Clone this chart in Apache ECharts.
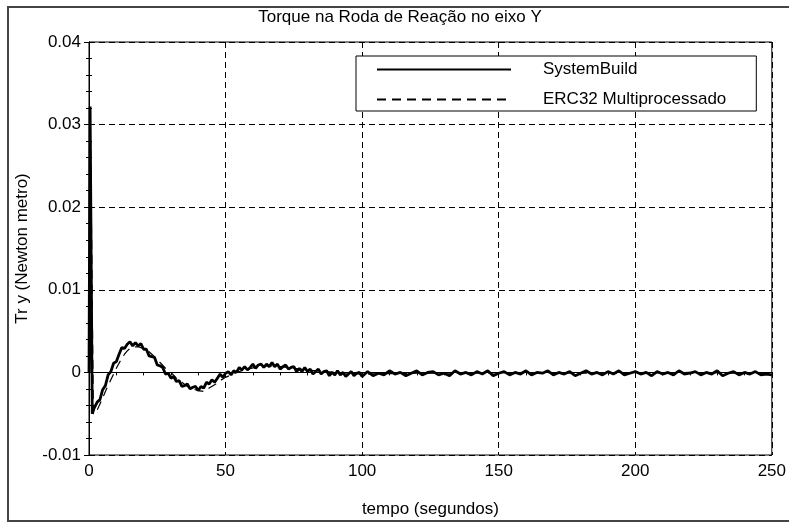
<!DOCTYPE html>
<html>
<head>
<meta charset="utf-8">
<script src="https://cdn.jsdelivr.net/npm/echarts@6/dist/echarts.min.js"></script>
<style>
html,body{margin:0;padding:0;background:#fff;}
#chart{width:789px;height:523px;}
</style>
</head>
<body>
<div id="chart"></div>
<script>
const chartTitle = 'Torque na Roda de Reação no eixo Y';
const xAxisName = 'tempo (segundos)';
const yAxisName = 'Tr y (Newton metro)';
const seriesNames = ['SystemBuild', 'ERC32 Multiprocessado'];

const solidTime = [0,0.4,1.2,1.8,2.5,
3,4,5,6,7,8,9,10,11,12,13,14,15,16,17,18,19,20,21,22,23,24,25,26,27,28,29,30,
31,32,33,34,35,36,37,38,39,40,41,42,43,44,45,46,47,48,49,50,51,52,53,54,55,56,57,58,59,60,
61,62,63,64,65,66,67,68,69,70,71,72,73,74,75,76,77,78,79,80,81,82,83,84,85,86,87,88,89,90,
91,92,93,94,95,96,97,98,99,100,
102,104,106,108,110,112,114,116,118,120,122,124,126,128,130,132,134,136,138,140,
142,144,146,148,150,152,154,156,158,160,162,164,166,168,170,172,174,176,178,180,
182,184,186,188,190,192,194,196,198,200,202,204,206,208,210,212,214,216,218,220,
222,224,226,228,230,232,234,236,238,240,242,244,246,248,250];

const solidValue = [0,0.0322,-0.0050,-0.0044,-0.0045,
-0.0036,-0.0033,-0.0021,-0.0016,-0.0003,0.0001,0.0011,0.0013,0.0022,0.0030,0.0029,0.0034,0.0037,0.0032,0.0036,0.0032,0.0035,0.0028,0.0028,0.0020,0.0019,0.0018,0.0009,0.0008,0.0006,-0.0002,-0.0001,-0.0007,
-0.0005,-0.0011,-0.0010,-0.0017,-0.0016,-0.0014,-0.0020,-0.0018,-0.0017,-0.0022,-0.0017,-0.0019,-0.0012,-0.0014,-0.0009,-0.0012,-0.0007,-0.0002,-0.0006,-0.0001,0.0001,-0.0003,0.0002,0.0000,0.0006,0.0003,0.0007,0.0003,0.0006,0.0010,
0.0005,0.0009,0.0010,0.0006,0.0010,0.0007,0.0012,0.0007,0.0010,0.0004,0.0007,0.0009,0.0004,0.0006,0.0007,0.0001,0.0005,0.0001,0.0006,0.0001,0.0004,-0.0002,0.0001,0.0004,-0.0002,0.0001,0.0002,-0.0004,0.0000,-0.0003,
0.0002,-0.0003,0.0000,-0.0005,-0.0002,0.0001,-0.0004,-0.0001,0.0000,-0.0005,
0.0001,-0.0004,-0.0001,-0.0003,0.0002,-0.0002,0.0000,-0.0004,-0.0001,0.0002,-0.0003,0.0000,0.0001,-0.0003,-0.0001,-0.0004,0.0002,-0.0002,0.0000,-0.0003,
0.0001,-0.0002,0.0002,-0.0004,-0.0001,0.0001,-0.0003,0.0000,-0.0002,0.0002,-0.0003,0.0000,-0.0001,0.0002,-0.0003,0.0000,-0.0002,0.0001,-0.0004,-0.0001,
0.0002,-0.0002,0.0000,-0.0003,0.0001,-0.0002,0.0002,-0.0003,-0.0001,0.0001,-0.0002,0.0000,-0.0004,0.0001,-0.0002,0.0000,-0.0003,0.0002,-0.0002,-0.0001,
0.0001,-0.0003,0.0000,-0.0002,0.0002,-0.0004,-0.0001,0.0001,-0.0003,0.0000,-0.0002,0.0001,-0.0003,-0.0002,-0.0003];

const dashTime = [0,0.6,1.6,2.5,3.5,5,6,7,8,9,10,11,12,13,14,15,16,17,18,19,20,
22,24,26,28,30,32,34,36,38,40,42,44,46,48,50,54,58,62,66,70,75,80,90,100,
120,140,160,180,200,220,240,250];
const dashValue = [0,0.0280,-0.0050,-0.0049,-0.0042,-0.0031,-0.0023,-0.0016,-0.0009,-0.0002,0.0005,0.0011,0.0017,0.0022,0.0026,0.0029,0.0030,0.0031,0.0031,0.0030,0.0029,
0.0025,0.0019,0.0012,0.0005,0.0000,-0.0007,-0.0012,-0.0017,-0.0020,-0.0022,-0.0023,-0.0019,-0.0015,-0.0010,-0.0006,0.0000,0.0004,0.0007,0.0008,0.0007,0.0005,0.0003,0.0000,-0.0002,
-0.0001,-0.0001,0.0000,-0.0001,-0.0001,0.0000,-0.0001,-0.0002];

function zip(ts, vs) {
  const n = Math.min(ts.length, vs.length);
  const out = [];
  for (let i = 0; i < n; i++) out.push([ts[i], vs[i]]);
  return out;
}

const FONT = 'Liberation Sans, Arial, sans-serif';
const FS = 17;

const chart = echarts.init(document.getElementById('chart'), null, {renderer: 'canvas'});

const tickCommon = {show: true, inside: true, length: 5, lineStyle: {color: '#000', width: 1}};
const minorCommon = {show: true, splitNumber: 5, length: 3, lineStyle: {color: '#000', width: 1}};

chart.setOption({
  animation: false,
  backgroundColor: '#fff',
  title: {
    text: chartTitle,
    left: 400,
    top: 9,
    textAlign: 'center',
    padding: 0,
    textStyle: {fontFamily: FONT, fontSize: FS, fontWeight: 'normal', color: '#000'}
  },
  graphic: [{
    type: 'rect',
    shape: {x: 8, y: 7, width: 820, height: 514},
    style: {fill: 'none', stroke: '#444', lineWidth: 2},
    silent: true,
    z: -1
  }],
  legend: {
    orient: 'vertical',
    left: 356,
    top: 56,
    data: seriesNames,
    backgroundColor: '#fff',
    borderColor: '#000',
    borderWidth: 1,
    borderRadius: 0,
    padding: [5, 30, 3, 20],
    itemWidth: 134,
    itemHeight: 14,
    itemGap: 13,
    itemStyle: {color: 'rgba(0,0,0,0)', borderColor: 'rgba(0,0,0,0)', borderWidth: 0, opacity: 0},
    textStyle: {fontFamily: FONT, fontSize: FS, color: '#000', lineHeight: 17, padding: [0, 0, 0, 27]},
    z: 10
  },
  grid: {
    left: 89, right: 13, top: 42, bottom: 58,
    show: true,
    borderColor: '#000',
    borderWidth: 1,
    backgroundColor: 'transparent'
  },
  xAxis: [{
    type: 'value',
    min: 0, max: 250, interval: 50,
    name: xAxisName,
    nameLocation: 'middle',
    nameGap: 46,
    nameTextStyle: {fontFamily: FONT, fontSize: FS, color: '#000'},
    axisLine: {show: true, lineStyle: {color: '#000', width: 1}},
    axisTick: {show: false},
    minorTick: {show: false},
    axisLabel: {fontFamily: FONT, fontSize: FS, color: '#000', margin: 8, showMinLabel: true, showMaxLabel: true},
    splitLine: {show: true, lineStyle: {color: '#000', type: [6, 4], width: 1}}
  }, {
    type: 'value',
    position: 'top',
    min: 0, max: 250, interval: 50,
    axisLine: {show: true, lineStyle: {color: '#000', width: 1}},
    axisTick: tickCommon,
    minorTick: minorCommon,
    axisLabel: {show: false},
    splitLine: {show: false}
  }],
  yAxis: [{
    type: 'value',
    min: -0.01, max: 0.04, interval: 0.01,
    name: yAxisName,
    nameLocation: 'middle',
    nameGap: 58,
    nameTextStyle: {fontFamily: FONT, fontSize: FS, color: '#000'},
    axisLine: {show: true, lineStyle: {color: '#000', width: 1}},
    axisTick: tickCommon,
    minorTick: minorCommon,
    axisLabel: {
      fontFamily: FONT, fontSize: FS, color: '#000', margin: 8,
      formatter: function (v) { return String(Math.round(v * 100) / 100); }
    },
    splitLine: {show: true, lineStyle: {color: '#000', type: [6, 4], width: 1}}
  }, {
    type: 'value',
    position: 'right',
    min: -0.01, max: 0.04, interval: 0.01,
    axisLine: {show: true, lineStyle: {color: '#000', width: 1}},
    axisTick: tickCommon,
    minorTick: minorCommon,
    axisLabel: {show: false},
    splitLine: {show: false}
  }],
  series: [{
    name: seriesNames[0],
    type: 'line',
    data: zip(solidTime, solidValue),
    symbol: 'none',
    smooth: false,
    lineStyle: {color: '#000', width: 2.8, type: 'solid'},
    itemStyle: {color: '#000'},
    z: 5
  }, {
    name: seriesNames[1],
    type: 'line',
    data: zip(dashTime, dashValue),
    symbol: 'none',
    smooth: false,
    lineStyle: {color: '#000', width: 1.2, type: [9, 6]},
    itemStyle: {color: '#000'},
    z: 4
  }]
});
</script>
</body>
</html>
